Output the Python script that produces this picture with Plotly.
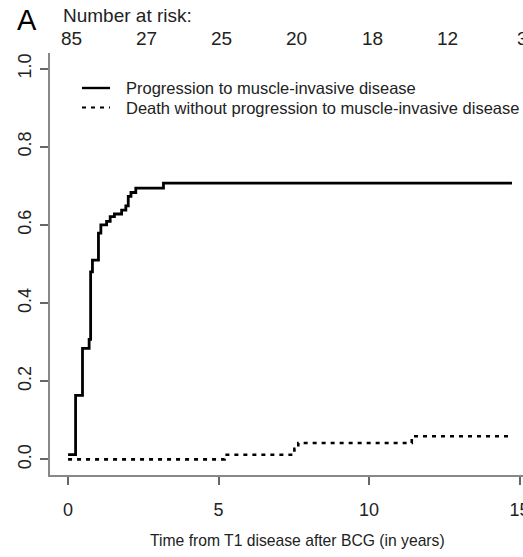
import plotly.graph_objects as go

# Data
prog_t = [0, 0.25, 0.48, 0.70, 0.75, 0.81, 1.01, 1.09, 1.28, 1.40, 1.54, 1.78, 1.92, 2.00, 2.09, 2.25, 3.17, 14.75]
prog_v = [0.012, 0.164, 0.284, 0.307, 0.48, 0.51, 0.579, 0.60, 0.609, 0.621, 0.628, 0.638, 0.649, 0.673, 0.683, 0.694, 0.707, 0.707]

death_t = [0, 5.2, 7.52, 7.65, 11.42, 14.65]
death_v = [0.0, 0.012, 0.027, 0.042, 0.059, 0.059]

risk_t = [0, 2.5, 5, 7.5, 10, 12.5, 15]
risk_n = [85, 27, 25, 20, 18, 12, 3]

x_ticks = [0, 5, 10, 15]
y_ticks = [0.0, 0.2, 0.4, 0.6, 0.8, 1.0]

series_names = ["Progression to muscle-invasive disease",
                "Death without progression to muscle-invasive disease"]
series_t = [prog_t, death_t]
series_v = [prog_v, death_v]
series_dash = ["solid", "4px,5px"]
series_width = [2.8, 2.6]

FONT = "Liberation Sans, Arial, sans-serif"
TXT = "#222222"

W, H = 523, 557
ml, mr, mt, mb = 50, 0, 53, 82
plot_w = W - ml - mr
plot_h = H - mt - mb


def px_x(p):
    return (p - ml) / plot_w


def px_y(p):
    return 1 - (p - mt) / plot_h


fig = go.Figure()
for t, v, nm, d, w in zip(series_t, series_v, series_names, series_dash, series_width):
    fig.add_trace(go.Scatter(x=t, y=v, mode="lines", name=nm,
                             line=dict(shape="hv", color="black", width=w, dash=d)))

ann = []
shapes = []
ann.append(dict(text="A", xref="paper", yref="paper", x=px_x(27), y=px_y(20),
                xanchor="center", yanchor="middle", showarrow=False,
                font=dict(size=29, color="black", family=FONT)))
ann.append(dict(text="Number at risk:", xref="paper", yref="paper", x=px_x(61), y=px_y(16),
                xanchor="left", yanchor="middle", showarrow=False,
                font=dict(size=19, color=TXT, family=FONT)))
for t, n in zip(risk_t, risk_n):
    ann.append(dict(text=str(n), xref="x", yref="paper", x=t, y=px_y(38.5), xshift=3,
                    xanchor="center", yanchor="middle", showarrow=False,
                    font=dict(size=19, color=TXT, family=FONT)))

# legend (manual, to match the compact R legend)
leg_rows = [88, 107.5]
for nm, d, w, ry in zip(series_names, series_dash, series_width, leg_rows):
    shapes.append(dict(type="line", xref="paper", yref="paper", x0=px_x(82), x1=px_x(110),
                       y0=px_y(ry), y1=px_y(ry), line=dict(color="black", width=w - 0.4, dash=d)))
    ann.append(dict(text=nm, xref="paper", yref="paper", x=px_x(124), y=px_y(ry),
                    xanchor="left", yanchor="middle", showarrow=False,
                    font=dict(size=16.5, color=TXT, family=FONT)))

# x axis title
ann.append(dict(text="Time from T1 disease after BCG (in years)", xref="paper", yref="paper",
                x=px_x(297), y=px_y(540), xanchor="center", yanchor="middle", showarrow=False,
                font=dict(size=15.7, color=TXT, family=FONT)))

fig.update_layout(
    width=W, height=H, margin=dict(l=ml, r=mr, t=mt, b=mb, autoexpand=False),
    paper_bgcolor="white", plot_bgcolor="white",
    font=dict(family=FONT, color=TXT),
    showlegend=False,
    annotations=ann, shapes=shapes,
    xaxis=dict(range=[-0.6, 15.116], tickvals=x_ticks, ticks="outside", ticklen=8, tickwidth=1.5, tickcolor="#666",
               showline=True, linecolor="#888", linewidth=1.8, showgrid=False, zeroline=False,
               tickfont=dict(size=18, color=TXT), automargin=False, ticklabeloverflow="allow",
               ticklabelstandoff=9),
    yaxis=dict(range=[-0.04, 1.04], tickvals=y_ticks, tickformat=".1f", ticks="outside", ticklen=8, tickwidth=1.5,
               tickcolor="#666", showline=True, linecolor="#888", linewidth=1.8, showgrid=False, zeroline=False,
               tickangle=-90, tickfont=dict(size=18, color=TXT), automargin=False, ticklabelstandoff=2),
)

fig.write_html("out.html")
